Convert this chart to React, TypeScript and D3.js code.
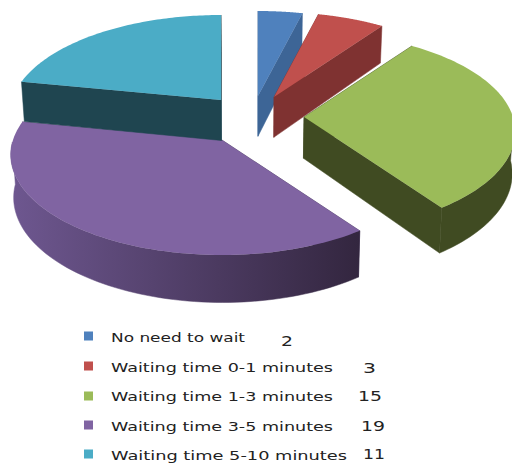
import { useEffect, useRef } from "react";
import * as d3 from "d3";

const labels = [
  "No need to wait",
  "Waiting time 0-1 minutes",
  "Waiting time 1-3 minutes",
  "Waiting time 3-5 minutes",
  "Waiting time 5-10 minutes",
];
const values = [2, 3, 15, 19, 11];
const topColors = ["#4f81bd", "#c0504d", "#9bbb59", "#8064a2", "#4bacc6"];
const wallColors = ["#3d6596", "#7f3231", "#404b22", "#4a3a62", "#1f4550"];
const rimLight = ["#3d6596", "#7f3231", "#404b22", "#6e5790", "#1f4550"];
const rimDark = ["#3d6596", "#7f3231", "#404b22", "#33263f", "#1f4550"];

// where each slice's tip ends up after exploding
const tips: [number, number][] = [
  [258, 96],
  [274, 97],
  [304, 117],
  [222, 140],
  [221, 100],
];
const legendY = [336, 366, 396, 425, 454];
const textY = [342, 372, 401, 431, 460];
const textW = [134, 222, 222, 222, 236];
const countX = [281, 363, 358, 361, 363];
const countY = [346, 373, 401, 431, 459];
const countW = [12, 13, 24, 24, 22];

const rx = 209;
const ry = 100;
const persX = 0.15;
const persY = 0.15;

function App() {
  const svgRef = useRef<SVGSVGElement>(null);

  useEffect(() => {
    const svg = d3.select(svgRef.current);
    svg.selectAll("*").remove();
    const defs = svg.append("defs");

    const arcs = d3.pie<number>().sort(null)(values);

    // pie plane -> screen, front of the pie is bigger
    const project = (a: number, i: number): [number, number] => {
      const u = Math.sin(a);
      const v = -Math.cos(a);
      return [
        tips[i][0] + rx * u * (1 + persX * v),
        tips[i][1] + ry * v * (1 + persY * v),
      ];
    };

    // bottom of the wall under a top point, thicker toward the viewer
    const down = (p: [number, number]): [number, number] => [
      p[0] - (p[0] - 256) * 0.012,
      p[1] + 36 + 0.045 * p[1],
    ];

    const line = d3.line();
    const chart = svg.append("g");

    arcs.forEach((d, i) => {
      const steps = d3.range(0, 81).map(
        (k) => d.startAngle + ((d.endAngle - d.startAngle) * k) / 80
      );
      const rim = steps.map((a) => project(a, i));
      // only the front half of the rim can be seen
      const frontRim = steps
        .filter((a) => Math.cos(a) <= 0)
        .map((a) => project(a, i));
      const tip = tips[i];
      const s = chart.append("g");

      // cut faces
      [rim[0], rim[rim.length - 1]].forEach((p) => {
        s.append("path")
          .attr("d", line([tip, p, down(p), down(tip)]) + "Z")
          .attr("fill", wallColors[i])
          .attr("stroke", wallColors[i])
          .attr("stroke-width", 0.5);
      });

      // outer wall
      if (frontRim.length > 1) {
        const grad = defs
          .append("linearGradient")
          .attr("id", `rim${i}`)
          .attr("gradientUnits", "userSpaceOnUse")
          .attr("x1", d3.min(frontRim, (p) => p[0])!)
          .attr("x2", d3.max(frontRim, (p) => p[0])!)
          .attr("y1", 0)
          .attr("y2", 0);
        grad.append("stop").attr("offset", 0).attr("stop-color", rimLight[i]);
        grad.append("stop").attr("offset", 1).attr("stop-color", rimDark[i]);

        s.append("path")
          .attr("d", line([...frontRim, ...frontRim.map(down).reverse()]) + "Z")
          .attr("fill", `url(#rim${i})`)
          .attr("stroke", `url(#rim${i})`)
          .attr("stroke-width", 0.5);
      }

      // top
      s.append("path")
        .attr("d", line([tip, ...rim]) + "Z")
        .attr("fill", topColors[i]);
    });

    const font = "'DejaVu Sans', sans-serif";
    labels.forEach((label, i) => {
      svg
        .append("rect")
        .attr("x", 84)
        .attr("y", legendY[i] - 4.5)
        .attr("width", 9)
        .attr("height", 9)
        .attr("fill", topColors[i]);
      svg
        .append("text")
        .attr("x", 111)
        .attr("y", textY[i])
        .attr("font-family", font)
        .attr("font-size", 13)
        .attr("fill", "#222")
        .attr("textLength", textW[i])
        .attr("lengthAdjust", "spacingAndGlyphs")
        .text(label);
      svg
        .append("text")
        .attr("x", countX[i])
        .attr("y", countY[i])
        .attr("font-family", font)
        .attr("font-size", 14)
        .attr("fill", "#222")
        .attr("textLength", countW[i])
        .attr("lengthAdjust", "spacingAndGlyphs")
        .text(values[i]);
    });
  }, []);

  return (
    <svg
      ref={svgRef}
      width={512}
      height={464}
      style={{ position: "absolute", left: 0, top: 0, background: "#fff" }}
    />
  );
}

export default App;
